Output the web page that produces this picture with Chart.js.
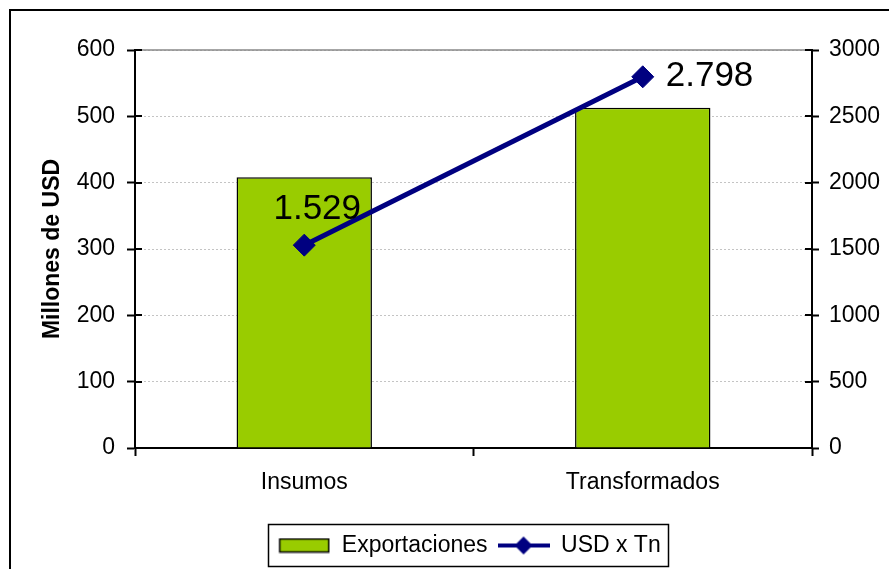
<!DOCTYPE html>
<html>
<head>
<meta charset="utf-8">
<script src="https://cdn.jsdelivr.net/npm/chart.js@4.4.0/dist/chart.umd.min.js"></script>
<style>
  html, body { margin: 0; padding: 0; background: #fff; }
</style>
</head>
<body>
<canvas id="chart" width="889" height="569"></canvas>
<script>
const categories = ['Insumos', 'Transformados'];
const exportaciones = [408, 513];
const usdPorTn = [1529, 2798];
const seriesNames = ['Exportaciones', 'USD x Tn'];

const FONT = '"Liberation Sans", Arial, sans-serif';
const GREEN = '#99cc00';
const NAVY = '#000080';

// where each value label sits relative to its point (Excel manual placement)
const labelOffsets = [
    { dx: 13, dy: -36, align: 'center' },
    { dx: 23, dy: 0, align: 'left' }
];

function fmtEs(v) {
    return String(v).replace(/\B(?=(\d{3})+(?!\d))/g, '.');
}

// legend swatches
const barSwatch = document.createElement('canvas');
barSwatch.width = 52;
barSwatch.height = 16;
let sctx = barSwatch.getContext('2d');
sctx.fillStyle = GREEN;
sctx.fillRect(1, 1, 50, 14);
sctx.strokeStyle = '#000';
sctx.lineWidth = 1.5;
sctx.strokeRect(1.5, 1.5, 49, 13);

const lineSwatch = document.createElement('canvas');
lineSwatch.width = 52;
lineSwatch.height = 22;
sctx = lineSwatch.getContext('2d');
sctx.strokeStyle = NAVY;
sctx.lineWidth = 4;
sctx.beginPath();
sctx.moveTo(0, 11);
sctx.lineTo(52, 11);
sctx.stroke();
sctx.fillStyle = NAVY;
sctx.beginPath();
sctx.moveTo(26, 2);
sctx.lineTo(35, 11);
sctx.lineTo(26, 20);
sctx.lineTo(17, 11);
sctx.closePath();
sctx.fill();

const framePlugin = {
    id: 'frame',
    beforeDraw(chart) {
        const ctx = chart.ctx;
        ctx.save();
        ctx.fillStyle = '#fff';
        ctx.fillRect(0, 0, chart.width, chart.height);
        ctx.strokeStyle = '#000';
        ctx.lineWidth = 2;
        ctx.beginPath();
        ctx.moveTo(10, chart.height);
        ctx.lineTo(10, 10);
        ctx.lineTo(chart.width, 10);
        ctx.stroke();
        ctx.restore();
    },
    beforeDatasetsDraw(chart) {
        // grey plot-area border on top
        const a = chart.chartArea;
        const ctx = chart.ctx;
        ctx.save();
        ctx.strokeStyle = '#888';
        ctx.lineWidth = 1.5;
        ctx.beginPath();
        ctx.moveTo(a.left, a.top);
        ctx.lineTo(a.right, a.top);
        ctx.stroke();
        ctx.restore();
    },
    afterDraw(chart) {
        const ctx = chart.ctx;
        ctx.save();
        ctx.strokeStyle = '#000';
        ctx.lineWidth = 2;
        // inner half of the cross ticks on both value axes
        ['y', 'y1'].forEach(id => {
            const s = chart.scales[id];
            const x0 = id === 'y' ? s.right : s.left;
            const dir = id === 'y' ? 1 : -1;
            s.ticks.forEach(t => {
                const py = Math.round(s.getPixelForValue(t.value));
                ctx.beginPath();
                ctx.moveTo(x0, py);
                ctx.lineTo(x0 + dir * 7, py);
                ctx.stroke();
            });
        });
        // legend box
        const lg = chart.legend;
        if (lg && lg.legendHitBoxes && lg.legendHitBoxes.length) {
            let l = Infinity, r = -Infinity;
            lg.legendHitBoxes.forEach(h => {
                l = Math.min(l, h.left);
                r = Math.max(r, h.left + h.width);
            });
            ctx.lineWidth = 1.5;
            ctx.strokeRect(Math.round(l - 10) + 0.5, Math.round(lg.top) + 0.5, Math.round(r - l + 18), 42);
        }
        ctx.restore();
    }
};

const valueLabels = {
    id: 'valueLabels',
    afterDatasetsDraw(chart) {
        const meta = chart.getDatasetMeta(1);
        const ctx = chart.ctx;
        ctx.save();
        ctx.font = '35px ' + FONT;
        ctx.fillStyle = '#000';
        ctx.textBaseline = 'middle';
        meta.data.forEach((pt, i) => {
            const o = labelOffsets[i];
            ctx.textAlign = o.align;
            ctx.fillText(fmtEs(usdPorTn[i]), pt.x + o.dx, pt.y + o.dy);
        });
        ctx.restore();
    }
};

const chart_data = {
    labels: categories,
    datasets: [{
        type: 'bar',
        label: seriesNames[0],
        data: exportaciones,
        yAxisID: 'y',
        backgroundColor: GREEN,
        borderColor: '#000',
        borderWidth: 1.5,
        barPercentage: 0.4,
        categoryPercentage: 1,
        order: 1,
    },
    {
        type: 'line',
        label: seriesNames[1],
        data: usdPorTn,
        yAxisID: 'y1',
        borderColor: NAVY,
        backgroundColor: NAVY,
        borderWidth: 5,
        pointStyle: 'rectRot',
        pointRadius: 11,
        pointBorderWidth: 1,
        pointBackgroundColor: NAVY,
        tension: 0,
        order: 0,
    }]
};

const tickFont = { family: FONT, size: 23, lineHeight: 1.2 };

const chart_config = {
    data: chart_data,
    options: {
        responsive: false,
        animation: false,
        layout: {
            padding: { top: 50, left: 50, right: 0, bottom: 2 }
        },
        plugins: {
            tooltip: { enabled: false },
            legend: {
                position: 'bottom',
                labels: {
                    usePointStyle: true,
                    pointStyleWidth: 52,
                    padding: 10,
                    color: '#000',
                    font: { family: FONT, size: 23 },
                    generateLabels: () => [
                        { text: seriesNames[0], pointStyle: barSwatch, datasetIndex: 0, hidden: false, lineWidth: 0, fontColor: '#000' },
                        { text: seriesNames[1], pointStyle: lineSwatch, datasetIndex: 1, hidden: false, lineWidth: 0, fontColor: '#000' }
                    ]
                }
            }
        },
        scales: {
            x: {
                offset: true,
                grid: {
                    offset: true,
                    drawOnChartArea: false,
                    tickColor: '#000',
                    tickLength: 8,
                    tickWidth: 2,
                },
                border: { color: '#000', width: 2 },
                ticks: { color: '#000', font: tickFont, padding: 13, maxRotation: 0 },
                afterFit: (s) => { s.height = 76; }
            },
            y: {
                position: 'left',
                min: 0,
                max: 600,
                grid: {
                    color: '#c4c4c4',
                    lineWidth: 1,
                    tickColor: '#000',
                    tickLength: 8,
                    tickWidth: 2,
                },
                border: { color: '#000', width: 2, dash: [2, 2] },
                ticks: { stepSize: 100, color: '#000', font: tickFont, padding: 12 },
                title: {
                    display: true,
                    text: 'Millones de USD',
                    color: '#000',
                    font: { family: FONT, size: 23, weight: 'bold', lineHeight: 1 },
                    padding: { top: -8.5, bottom: 0 }
                },
                afterFit: (s) => { s.width = 85; }
            },
            y1: {
                position: 'right',
                min: 0,
                max: 3000,
                grid: {
                    drawOnChartArea: false,
                    tickColor: '#000',
                    tickLength: 7,
                    tickWidth: 2,
                },
                border: { color: '#000', width: 2 },
                ticks: {
                    stepSize: 500,
                    color: '#000',
                    font: tickFont,
                    padding: 10,
                    callback: (v) => String(v)
                },
                afterFit: (s) => { s.width = 77; }
            }
        }
    },
    plugins: [framePlugin, valueLabels]
};

const chart = new Chart(document.getElementById('chart').getContext('2d'), chart_config);
</script>
</body>
</html>
